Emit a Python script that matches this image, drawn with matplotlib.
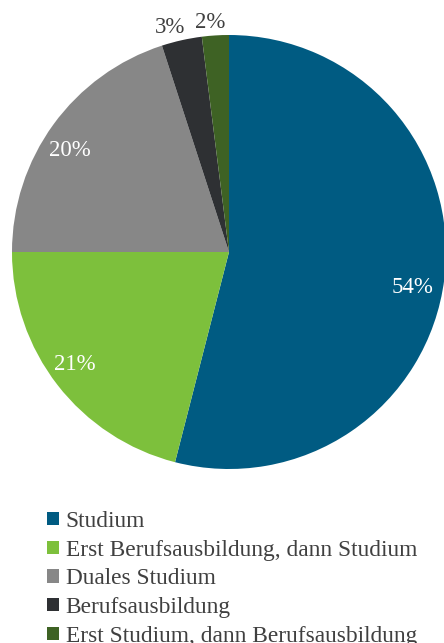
import numpy as np
import matplotlib
matplotlib.use("Agg")
import matplotlib.pyplot as plt

categories = [
    "Studium",
    "Erst Berufsausbildung, dann Studium",
    "Duales Studium",
    "Berufsausbildung",
    "Erst Studium, dann Berufsausbildung",
]
shares = [54, 21, 20, 3, 2]
colors = ["#005B82", "#7DC03C", "#878787", "#2E3033", "#3E6224"]
label_colors = ["white", "white", "white", "#404040", "#404040"]
# label placement: radial distance and angular shift from the wedge centre (deg)
label_radius = [0.86, 0.88, 0.87, 1.07, 1.06]
label_shift = [-3.8, -1.8, 3.3, 2.1, 1.1]

plt.rcParams["font.family"] = ["Liberation Serif", "DejaVu Serif"]

W, H = 444, 643
fig = plt.figure(figsize=(W / 100, H / 100), dpi=100)

cx, cy, r = 229, 252, 217
ax = fig.add_axes([(cx - r) / W, (H - cy - r) / H, 2 * r / W, 2 * r / H])
wedges, _ = ax.pie(shares, colors=colors, startangle=90, counterclock=False,
                   radius=1.0, wedgeprops=dict(linewidth=0))
ax.set_xlim(-1, 1)
ax.set_ylim(-1, 1)
ax.set_aspect("equal")
ax.axis("off")

for w, v, d, s, c in zip(wedges, shares, label_radius, label_shift, label_colors):
    ang = np.deg2rad((w.theta1 + w.theta2) / 2 + s)
    ax.text(d * np.cos(ang), d * np.sin(ang), f"{v}%", ha="center", va="center",
            fontsize=16.5, color=c)

fig.legend(wedges, categories, loc="upper left",
           bbox_to_anchor=(47 / W, 1 - 511 / H), frameon=False,
           fontsize=16.8, labelcolor="#404040",
           handlelength=0.5, handleheight=0.5, handletextpad=0.3,
           labelspacing=0.33, borderaxespad=0, borderpad=0)

fig.savefig("out.png", dpi=100)
